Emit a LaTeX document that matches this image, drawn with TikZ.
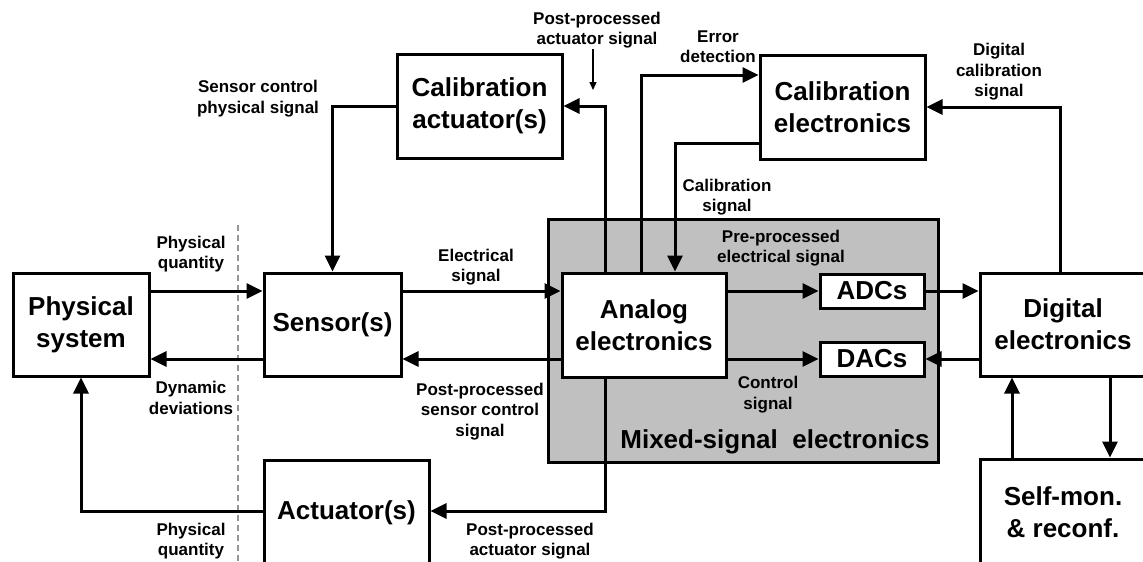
\documentclass[tikz,border=0pt]{standalone}
\usepackage{fontspec}
\setmainfont{Liberation Sans}
\usetikzlibrary{arrows.meta}
\definecolor{mixgray}{RGB}{192,192,192}
\definecolor{dashgray}{RGB}{150,150,150}
\begin{document}
\begin{tikzpicture}[x=1pt,y=-1pt,
  box/.style={draw,line width=3pt,fill=white,inner sep=0pt,align=center,
    font=\fontsize{26}{32}\selectfont\bfseries},
  conn/.style={line width=3pt,-{Triangle[length=16pt,width=15pt]}},
  thinconn/.style={line width=1.3pt,-{Triangle[length=8pt,width=7pt]}},
  lbl/.style={inner sep=0pt,align=center,font=\fontsize{17}{20.5}\selectfont\bfseries},
  biglbl/.style={inner sep=0pt,font=\fontsize{26}{32}\selectfont\bfseries},
  boundary/.style={dashgray,line width=1.5pt,dash pattern=on 6pt off 4pt}]
% canvas
\useasboundingbox (0,0) rectangle (1143,562);
\fill[white] (0,0) rectangle (1143,562);
\clip (0,0) rectangle (1143,562);

% signal rows
\coordinate (r1) at (0,291);
\coordinate (r2) at (0,359);
\coordinate (r3) at (0,511);

% mixed-signal block
\node[draw,line width=3pt,fill=mixgray,minimum width=390pt,minimum height=243pt,inner sep=0pt]
  (mixed) at (743,340.5) {};
\node[biglbl] (mixedlbl) at (775,442) {Mixed-signal\ \ electronics};

% boxes
\node[box,minimum width=136pt,minimum height=103pt] (phys) at (81,324.5) {Physical\\system};
\node[box,minimum width=137pt,minimum height=103pt] (sensor) at (332.5,324.5) {Sensor(s)};
\node[box,minimum width=165pt,minimum height=104pt] (calact) at (479.5,106) {Calibration\\actuator(s)};
\node[box,minimum width=165pt,minimum height=104pt] (calel) at (842.5,107) {Calibration\\electronics};
\node[box,minimum width=164pt,minimum height=104pt] (analog) at (644,325) {Analog\\electronics};
\node[box,minimum width=104pt,minimum height=34pt] (adc) at (872,291) {ADCs};
\node[box,minimum width=104pt,minimum height=34pt] (dac) at (872,359) {DACs};
\node[box,minimum width=166pt,minimum height=103pt] (digital) at (1063,324.5) {Digital\\electronics};
\node[box,minimum width=166pt,minimum height=107pt] (selfmon) at (1063,512.5) {Self-mon.\\\&~reconf.};
\node[box,minimum width=165pt,minimum height=106pt] (actuator) at (346.5,513) {Actuator(s)};

% boundary of the physical domain
\coordinate (btop) at (238,225);
\coordinate (bbot) at (238,570);
\draw[boundary] (btop) -- (bbot);

% main signal chain
\draw[conn] (phys.east |- r1) -- (sensor.west |- r1);
\draw[conn] (sensor.west |- r2) -- (phys.east |- r2);
\draw[conn] (sensor.east |- r1) -- (analog.west |- r1);
\draw[conn] (analog.west |- r2) -- (sensor.east |- r2);
\draw[conn] (analog.east |- r1) -- (adc.west);
\draw[conn] (analog.east |- r2) -- (dac.west);
\draw[conn] (adc.east) -- (digital.west |- adc);
\draw[conn] (digital.west |- dac) -- (dac.east);

% calibration loops
\draw[conn] (calact.west) -| (sensor.north);
\draw[conn] (analog.north -| 605,0) |- (calact.east);
\draw[conn] (analog.north -| 641,0) |- (calel.west |- 0,75);
\draw[conn] (calel.west |- 0,143) -| (analog.north -| 675,0);
\draw[conn] (digital.north -| 1060,0) |- (calel.east);

% actuation path
\draw[conn] (analog.south -| 605,0) |- (actuator.east |- r3);
\draw[conn] (actuator.west |- r3) -| (phys.south);

% self-monitoring
\draw[conn] (selfmon.north -| 1012,0) -- (digital.south -| 1012,0);
\draw[conn] (digital.south -| 1110,0) -- (selfmon.north -| 1110,0);

% pointer to the actuator signal
\coordinate (ptop) at (593,49);
\coordinate (pbot) at (593,90);
\draw[thinconn] (ptop) -- (pbot);

% connector labels
\node[lbl] (lpq1) at (191,254) {Physical\\quantity};
\node[lbl] (ldyn) at (191,398) {Dynamic\\deviations};
\node[lbl] (lpq2) at (191,541) {Physical\\quantity};
\node[lbl] (lel) at (476,267) {Electrical\\signal};
\node[lbl] (lpsc) at (480,411.5) {Post-processed\\sensor control\\signal};
\node[lbl] (lpas1) at (530,541) {Post-processed\\actuator signal};
\node[lbl] (lscp) at (258,98.5) {Sensor control\\physical signal};
\node[lbl] (lpas2) at (597,30) {Post-processed\\actuator signal};
\node[lbl] (lerr) at (718,46.5) {Error\\detection};
\node[lbl] (lcal) at (727,197) {Calibration\\signal};
\node[lbl] (ldig) at (999,72) {Digital\\calibration\\signal};
\node[lbl] (lpre) at (781,248) {Pre-processed\\electrical signal};
\node[lbl] (lctl) at (768,394.5) {Control\\signal};
\end{tikzpicture}
\end{document}
